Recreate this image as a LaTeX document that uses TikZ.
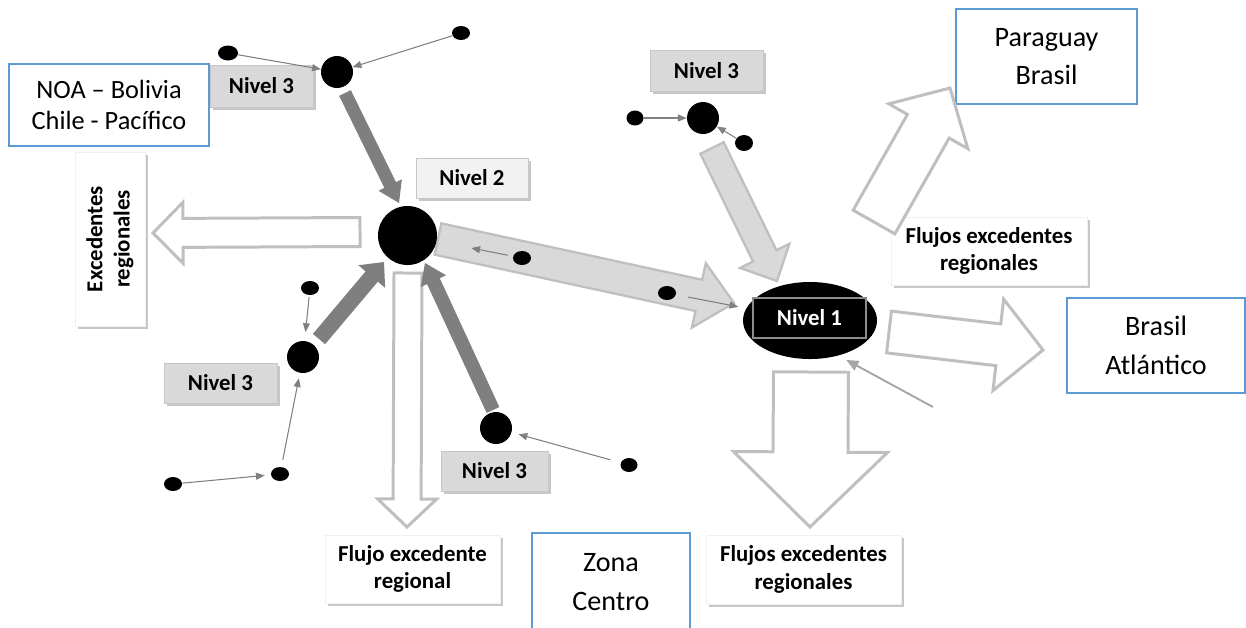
\documentclass[tikz,border=0pt]{standalone}
\usepackage{fontspec}
\setmainfont{Carlito}
\usetikzlibrary{calc,shapes.geometric,arrows.meta,shadows}
\definecolor{blueline}{HTML}{5B9BD5}
\definecolor{darkarr}{HTML}{7F7F7F}
\definecolor{lightfill}{HTML}{D9D9D9}
\definecolor{lightedge}{HTML}{BFBFBF}
\definecolor{lvlfill}{HTML}{D9D9D9}
\definecolor{lvltwo}{HTML}{F2F2F2}
\definecolor{thinc}{HTML}{808080}
\definecolor{bigthin}{HTML}{A6A6A6}
\newcommand\pu{0.02cm}
\newcommand\lblfont{\bfseries\fontsize{13}{15.5}\selectfont}
\newcommand\regfont{\fontsize{15}{18}\selectfont}
\newcommand\regbigfont{\fontsize{16}{22}\selectfont}
\newcommand\fatarrow[6]{%
  \pgfmathsetlengthmacro\faw{#4*0.02cm}%
  \pgfmathsetlengthmacro\fah{#5*0.02cm}%
  \pgfmathsetlengthmacro\fal{#6*0.02cm}%
  \coordinate (fahd) at ($(#3)!\fal!(#2)$);
  \path[#1] ($(#2)!\faw!90:(#3)$) -- ($(fahd)!\faw!90:(#3)$) -- ($(fahd)!\fah!90:(#3)$) -- (#3)
     -- ($(fahd)!\fah!-90:(#3)$) -- ($(fahd)!\faw!-90:(#3)$) -- ($(#2)!\faw!-90:(#3)$) -- cycle;
}
\tikzset{
  shadowed/.style={drop shadow={shadow xshift=1.8pt, shadow yshift=-1.8pt, fill=black, opacity=0.22}},
  lvl/.style={draw=black!22, line width=0.5pt, fill=lvlfill, font=\lblfont, inner sep=0pt, align=center, shadowed},
  wlbl/.style={draw=black!6, line width=0.4pt, fill=white, font=\lblfont, inner sep=0pt, align=center, shadowed},
  region/.style={draw=blueline, line width=1.1pt, fill=white, align=center, inner sep=0pt},
  bigdot/.style={circle, fill=black, inner sep=0pt},
  dot/.style={ellipse, fill=black, inner sep=0pt, minimum width=18*\pu, minimum height=14*\pu},
  thinarr/.style={draw=thinc, line width=0.6pt, -{Triangle[length=5pt,width=4pt]}},
  solidarr/.style={fill=darkarr},
  lightarr/.style={fill=lightfill, draw=lightedge, line width=1.3pt, line join=miter},
  outarr/.style={fill=white, draw=lightedge, line width=1.7pt, line join=miter},
}
\begin{document}
\begin{tikzpicture}[x=0.02cm, y=-0.02cm]
\useasboundingbox (0,0) rectangle (1246,627);

% region boxes
\node[region, minimum width=200*\pu, minimum height=82*\pu, font=\regfont] (NOA) at (109,105) {NOA – Bolivia\\Chile - Pacífico};
\node[region, minimum width=181*\pu, minimum height=95*\pu, font=\regbigfont] (PY) at (1046.5,56.5) {Paraguay\\Brasil};
\node[region, minimum width=178*\pu, minimum height=95*\pu, font=\regbigfont] (BA) at (1156,345.5) {Brasil\\Atlántico};
\node[region, minimum width=158*\pu, minimum height=98*\pu, font=\regbigfont] (ZC) at (611,582) {Zona\\Centro};

% white labels
\node[wlbl, minimum width=70*\pu, minimum height=174*\pu] (EX) at (110,239) {};
\node[rotate=90, font=\lblfont, align=center, inner sep=0pt] (EXt) at (EX) {Excedentes\\regionales};
\node[wlbl, minimum width=175*\pu, minimum height=68*\pu] (FR) at (412.5,569) {Flujo excedente\\regional};
\node[wlbl, minimum width=196*\pu, minimum height=68*\pu] (FT) at (989,251) {Flujos excedentes\\regionales};
\node[wlbl, minimum width=195*\pu, minimum height=69*\pu] (FB) at (803.5,569.5) {Flujos excedentes\\regionales};

% level labels
\node[lvl, minimum width=103*\pu, minimum height=42*\pu] (L3a) at (261.5,86) {Nivel 3};
\node[lvl, minimum width=113*\pu, minimum height=41*\pu] (L3b) at (706.5,70.5) {Nivel 3};
\node[lvl, minimum width=113*\pu, minimum height=40*\pu] (L3c) at (220.5,383) {Nivel 3};
\node[lvl, minimum width=107*\pu, minimum height=40*\pu] (L3d) at (494.5,471) {Nivel 3};
\node[lvl, fill=lvltwo, minimum width=112*\pu, minimum height=40*\pu] (L2) at (472,178) {Nivel 2};

% arrow anchor coordinates
\coordinate (a1s) at (345,93);  \coordinate (a1t) at (399,203);
\coordinate (a2s) at (319,339); \coordinate (a2t) at (384,262);
\coordinate (a3s) at (493,410); \coordinate (a3t) at (425,263);
\coordinate (a4s) at (438,239); \coordinate (a4t) at (734,303);
\coordinate (a5s) at (712,148); \coordinate (a5t) at (777,281);
\coordinate (a6s) at (360,232); \coordinate (a6t) at (153,233);
\coordinate (a7s) at (408,273); \coordinate (a7t) at (407,527);
\coordinate (a8s) at (811,372); \coordinate (a8t) at (810,527);
\coordinate (a9s) at (889,332); \coordinate (a9t) at (1043,350);
\coordinate (a10s) at (874,222); \coordinate (a10t) at (950,88);

% outline arrows
\fatarrow{outarr}{a6s}{a6t}{14.5}{30.5}{30}
\fatarrow{outarr}{a7s}{a7t}{14}{29.5}{28}
\fatarrow{outarr}{a8s}{a8t}{37.5}{77}{75}
\fatarrow{outarr}{a9s}{a9t}{21}{46}{45}
\fatarrow{outarr}{a10s}{a10t}{24}{45.5}{44}
% light filled arrows
\fatarrow{lightarr}{a4s}{a4t}{16}{33}{36}
\fatarrow{lightarr}{a5s}{a5t}{13}{27.5}{28}
% dark solid arrows
\fatarrow{solidarr}{a1s}{a1t}{6.5}{13}{20}
\fatarrow{solidarr}{a2s}{a2t}{8}{17.5}{19}
\fatarrow{solidarr}{a3s}{a3t}{7}{14}{20}

% circles
\node[bigdot, minimum size=32*\pu] (c1) at (337,72) {};
\node[bigdot, minimum size=59*\pu] (N2) at (407.5,235.5) {};
\node[bigdot, minimum size=32*\pu] (c2) at (303,357) {};
\node[bigdot, minimum size=32*\pu] (c3) at (496,428) {};
\node[bigdot, minimum size=32*\pu] (c4) at (703,118) {};
\node[ellipse, fill=black, inner sep=0pt, minimum width=134*\pu, minimum height=77*\pu] (N1) at (810,320.5) {};
\node[draw=black!45, line width=0.6pt, minimum width=113*\pu, minimum height=40*\pu, inner sep=0pt, text=white, font=\lblfont] (N1t) at (809.5,318) {Nivel 1};

% small dots
\node[dot, minimum width=20*\pu, minimum height=15*\pu] (d1) at (228,53) {};
\node[dot] (d2) at (461,33) {};
\node[dot] (d3) at (310,288) {};
\node[dot] (d4) at (280,474) {};
\node[dot] (d5) at (173,484) {};
\node[dot, minimum width=17*\pu] (d6) at (629,465) {};
\node[dot, minimum width=17*\pu, minimum height=15*\pu] (d7) at (635,118) {};
\node[dot, minimum height=16*\pu] (d8) at (744,143) {};
\node[dot] (d9) at (522,258) {};
\node[dot] (d10) at (667,293) {};
\coordinate (ext) at (933,407);

% thin arrows
\draw[thinarr] (d1) -- (c1);
\draw[thinarr] (d2) -- (c1);
\draw[thinarr, shorten <=1pt, shorten >=5pt] (d3) -- (c2);
\draw[thinarr, shorten <=4pt, shorten >=3pt] (d4) -- (c2);
\draw[thinarr, shorten >=3.4pt] (d5) -- (d4);
\draw[thinarr, shorten <=6pt, shorten >=4pt] (d6) -- (c3);
\draw[thinarr] (d7) -- (c4);
\draw[thinarr] (d8) -- (c4);
\draw[thinarr, shorten <=3pt, shorten >=20pt] (d9) -- (N2);
\draw[thinarr, shorten <=7pt, shorten >=4.5pt] (d10) -- (N1);
\draw[draw=bigthin, line width=1.1pt, -{Triangle[length=7pt,width=6pt]}, shorten >=5pt] (ext) -- (N1.-51);
\end{tikzpicture}
\end{document}
